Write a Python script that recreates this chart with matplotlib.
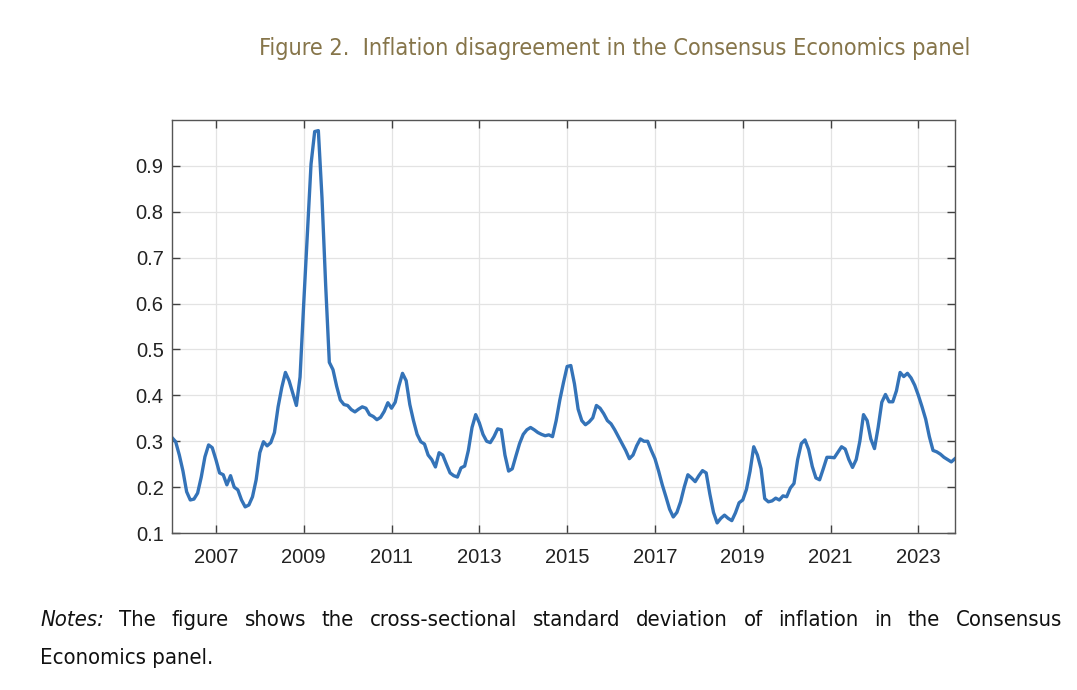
import numpy as np
import pandas as pd
from matplotlib import pyplot as plt

# monthly cross-sectional std dev, Jan 2006 - Nov 2023
y2006 = [0.308, 0.299, 0.27, 0.235, 0.19, 0.172, 0.174, 0.187, 0.222, 0.266, 0.292, 0.286]
y2007 = [0.26, 0.231, 0.227, 0.205, 0.225, 0.2, 0.194, 0.172, 0.157, 0.161, 0.179, 0.216]
y2008 = [0.275, 0.299, 0.29, 0.297, 0.319, 0.375, 0.417, 0.45, 0.432, 0.405, 0.378, 0.44]
y2009 = [0.6, 0.75, 0.904, 0.975, 0.977, 0.83, 0.64, 0.472, 0.456, 0.42, 0.39, 0.38]
y2010 = [0.378, 0.369, 0.364, 0.37, 0.375, 0.372, 0.358, 0.354, 0.347, 0.352, 0.365, 0.384]
y2011 = [0.372, 0.385, 0.42, 0.448, 0.432, 0.38, 0.345, 0.315, 0.299, 0.294, 0.27, 0.26]
y2012 = [0.244, 0.275, 0.27, 0.25, 0.231, 0.225, 0.222, 0.242, 0.246, 0.28, 0.33, 0.358]
y2013 = [0.34, 0.315, 0.3, 0.297, 0.31, 0.327, 0.325, 0.27, 0.235, 0.24, 0.268, 0.295]
y2014 = [0.315, 0.325, 0.33, 0.325, 0.319, 0.315, 0.312, 0.314, 0.31, 0.345, 0.39, 0.428]
y2015 = [0.463, 0.465, 0.425, 0.37, 0.345, 0.336, 0.342, 0.351, 0.378, 0.372, 0.36, 0.345]
y2016 = [0.338, 0.325, 0.31, 0.295, 0.28, 0.262, 0.27, 0.29, 0.305, 0.3, 0.3, 0.28]
y2017 = [0.262, 0.235, 0.205, 0.179, 0.152, 0.135, 0.145, 0.168, 0.2, 0.227, 0.22, 0.212]
y2018 = [0.225, 0.236, 0.231, 0.185, 0.145, 0.122, 0.132, 0.139, 0.132, 0.127, 0.144, 0.166]
y2019 = [0.172, 0.195, 0.235, 0.288, 0.27, 0.24, 0.175, 0.168, 0.17, 0.176, 0.172, 0.181]
y2020 = [0.179, 0.198, 0.208, 0.26, 0.295, 0.303, 0.282, 0.245, 0.22, 0.216, 0.24, 0.265]
y2021 = [0.265, 0.264, 0.276, 0.288, 0.283, 0.26, 0.243, 0.26, 0.3, 0.358, 0.345, 0.305]
y2022 = [0.284, 0.33, 0.385, 0.402, 0.386, 0.386, 0.41, 0.45, 0.441, 0.448, 0.438, 0.422]
y2023 = [0.4, 0.375, 0.348, 0.31, 0.28, 0.277, 0.272, 0.265, 0.26, 0.255, 0.262]

years = [y2006, y2007, y2008, y2009, y2010, y2011, y2012, y2013, y2014,
         y2015, y2016, y2017, y2018, y2019, y2020, y2021, y2022, y2023]

xticks = [2007, 2009, 2011, 2013, 2015, 2017, 2019, 2021, 2023]
yticks = [0.1, 0.2, 0.3, 0.4, 0.5, 0.6, 0.7, 0.8, 0.9]

title = "Figure 2.  Inflation disagreement in the Consensus Economics panel"
note_words = ("The figure shows the cross-sectional standard deviation of "
              "inflation in the Consensus").split()
note_line2 = "Economics panel."

SANS = ["Liberation Sans", "DejaVu Sans"]


def fit_size(fig, r, txt, target_px):
    # shrink/grow a text so it spans target_px
    w = txt.get_window_extent(r).width
    txt.set_fontsize(txt.get_fontsize() * target_px / w)


def main():
    vals = np.concatenate([np.array(v) for v in years])
    dates = pd.date_range("2006-01-01", periods=len(vals), freq="MS")
    t = dates.year + (dates.month - 1) / 12.0

    fig = plt.figure(figsize=(10.77, 6.9), dpi=100)
    ax = fig.add_axes([0.1597, 0.2275, 0.727, 0.5985])

    ax.plot(t, vals, color="#3473b8", lw=2.4, solid_joinstyle="round")

    ax.set_xlim(t[0], t[-1])
    ax.set_ylim(0.1, 1.0)
    ax.set_xticks(xticks)
    ax.set_yticks(yticks)
    ax.set_yticklabels([f"{v:.1f}" for v in yticks])
    ax.grid(True, color="#e3e3e3", lw=0.9)
    ax.set_axisbelow(True)
    ax.tick_params(direction="in", length=6, width=1.0, color="#404040",
                   labelsize=14.5, labelcolor="#222222", top=True, right=True)
    ax.tick_params(axis="x", pad=11)
    ax.tick_params(axis="y", pad=6)
    for lab in ax.get_xticklabels() + ax.get_yticklabels():
        lab.set_family(SANS)
    for s in ax.spines.values():
        s.set_color("#555555")
        s.set_linewidth(1.0)

    fig.canvas.draw()
    r = fig.canvas.get_renderer()

    ttl = fig.text(615 / 1077, 1 - 48 / 690, title, ha="center", va="center",
                   fontsize=20, color="#86754a", fontstretch="condensed")
    fit_size(fig, r, ttl, 714)

    # notes, first line justified to the right margin
    y1 = 1 - 620 / 690
    y2 = 1 - 658 / 690
    left, right = 40 / 1077, 1062 / 1077
    last = fig.text(left, y2, note_line2, fontsize=15, fontstretch="condensed",
                    va="center", color="#111111")
    fit_size(fig, r, last, 174)
    fs = last.get_fontsize()
    pieces = [("Notes:", "italic")] + [(w, "normal") for w in note_words]
    texts = [fig.text(0, y1, w, fontsize=fs, style=st, fontstretch="condensed",
                      va="center", color="#111111") for w, st in pieces]
    widths = [tx.get_window_extent(r).width / fig.bbox.width for tx in texts]
    gap = (right - left - sum(widths)) / (len(texts) - 1)
    x = left
    for tx, w in zip(texts, widths):
        tx.set_x(x)
        x += w + gap

    fig.savefig("out.png", dpi=100)


if __name__ == "__main__":
    main()
